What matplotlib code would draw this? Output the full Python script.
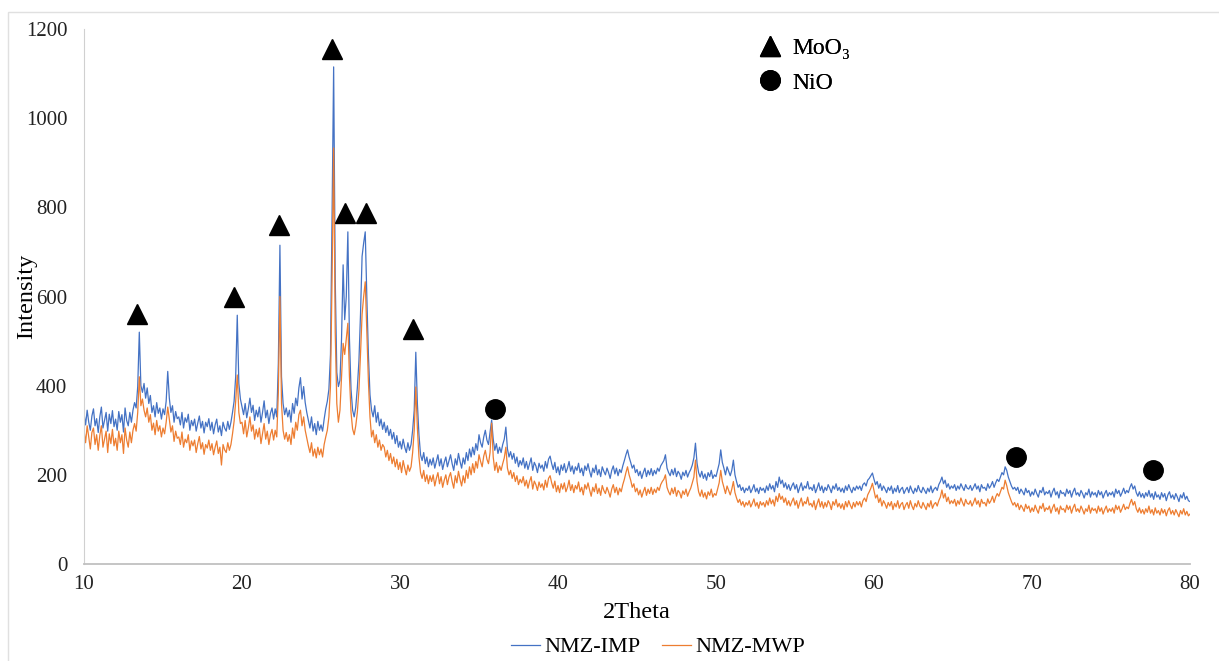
import matplotlib
matplotlib.use("Agg")
import matplotlib.pyplot as plt
from matplotlib.lines import Line2D
from matplotlib.patches import Rectangle
import numpy as np

# XRD patterns, 2Theta 10..80 in 0.1 steps (one row per degree)
imp = [
    338, 312, 345, 318, 300, 332, 348, 310, 326, 295,   # 10
    330, 352, 305, 322, 340, 298, 336, 315, 344, 308,   # 11
    325, 300, 342, 318, 335, 296, 350, 322, 310, 340,   # 12
    318, 345, 362, 350, 398, 520, 400, 385, 405, 372,   # 13
    395, 360, 378, 340, 355, 330, 362, 338, 350, 325,   # 14
    348, 335, 365, 432, 372, 340, 355, 318, 342, 326,   # 15
    330, 312, 340, 305, 328, 318, 336, 300, 322, 310,   # 16
    325, 298, 316, 332, 305, 320, 294, 318, 308, 326,   # 17
    300, 318, 292, 312, 325, 296, 310, 288, 318, 305,   # 18
    298, 320, 302, 318, 340, 365, 420, 558, 405, 370,   # 19
    352, 335, 360, 328, 348, 372, 340, 356, 322, 345,   # 20
    330, 352, 318, 340, 366, 328, 345, 315, 338, 350,   # 21
    325, 348, 330, 450, 715, 420, 360, 335, 350, 330,   # 22
    345, 318, 360, 338, 372, 355, 395, 418, 370, 398,   # 23
    362, 340, 322, 305, 330, 298, 315, 290, 320, 300,   # 24
    312, 298, 325, 348, 365, 392, 470, 780, 1115, 640,  # 25
    430, 398, 412, 505, 671, 548, 600, 745, 505, 392,   # 26
    345, 330, 352, 395, 455, 560, 690, 720, 745, 600,   # 27
    470, 380, 345, 330, 355, 318, 340, 310, 325, 302,   # 28
    318, 295, 310, 288, 302, 280, 295, 270, 288, 262,   # 29
    275, 258, 280, 262, 250, 272, 255, 268, 300, 345,   # 30
    475, 360, 290, 245, 232, 250, 225, 240, 218, 235,   # 31
    222, 238, 215, 230, 245, 220, 236, 212, 228, 240,   # 32
    218, 232, 245, 225, 210, 236, 222, 248, 230, 215,   # 33
    238, 224, 250, 232, 258, 240, 262, 245, 270, 255,   # 34
    290, 272, 262, 285, 300, 278, 268, 295, 323, 280,   # 35
    255, 270, 248, 262, 250, 268, 280, 307, 258, 240,   # 36
    252, 235, 248, 226, 240, 218, 232, 222, 238, 215,   # 37
    230, 212, 225, 238, 210, 228, 220, 205, 226, 215,   # 38
    222, 208, 230, 215, 235, 242, 225, 212, 228, 205,   # 39
    218, 200, 222, 210, 225, 205, 215, 230, 208, 220,   # 40
    202, 218, 210, 226, 205, 215, 198, 220, 210, 225,   # 41
    208, 195, 215, 205, 222, 200, 212, 196, 218, 208,   # 42
    200, 215, 205, 192, 210, 220, 202, 215, 198, 212,   # 43
    205, 220, 232, 245, 256, 240, 228, 215, 222, 205,   # 44
    212, 198, 208, 192, 205, 215, 196, 210, 200, 214,   # 45
    198, 210, 202, 215, 208, 220, 226, 232, 245, 215,   # 46
    205, 198, 212, 200, 215, 196, 208, 202, 190, 206,   # 47
    198, 210, 195, 205, 212, 222, 238, 271, 226, 205,   # 48
    195, 208, 192, 202, 188, 205, 196, 210, 192, 200,   # 49
    196, 210, 225, 256, 228, 215, 200, 218, 208, 198,   # 50
    210, 233, 200, 185, 172, 178, 165, 172, 160, 170,   # 51
    165, 175, 160, 168, 178, 162, 170, 158, 172, 165,   # 52
    170, 160, 175, 165, 180, 168, 176, 162, 185, 172,   # 53
    195, 180, 188, 172, 182, 168, 178, 165, 175, 182,   # 54
    168, 178, 160, 172, 182, 165, 175, 170, 185, 168,   # 55
    172, 165, 178, 160, 170, 182, 165, 175, 160, 172,   # 56
    165, 178, 170, 160, 175, 168, 180, 165, 172, 162,   # 57
    170, 160, 175, 165, 178, 168, 160, 172, 165, 175,   # 58
    168, 175, 165, 178, 182, 175, 188, 192, 198, 204,   # 59
    190, 178, 185, 170, 180, 165, 175, 168, 160, 172,   # 60
    165, 175, 158, 170, 162, 176, 160, 168, 172, 158,   # 61
    166, 172, 160, 175, 165, 158, 170, 162, 176, 165,   # 62
    160, 172, 165, 158, 170, 162, 175, 160, 168, 172,   # 63
    165, 178, 185, 195, 180, 188, 172, 180, 168, 175,   # 64
    170, 178, 165, 175, 168, 180, 172, 165, 178, 170,   # 65
    168, 176, 165, 172, 180, 168, 175, 162, 178, 170,   # 66
    172, 165, 180, 170, 176, 185, 172, 182, 190, 185,   # 67
    195, 205, 200, 218, 210, 195, 185, 175, 168, 172,   # 68
    165, 172, 158, 168, 162, 155, 170, 160, 165, 152,   # 69
    162, 155, 168, 158, 150, 165, 160, 172, 155, 162,   # 70
    158, 165, 150, 162, 170, 155, 162, 148, 165, 158,   # 71
    160, 152, 168, 158, 165, 150, 162, 170, 155, 160,   # 72
    152, 165, 158, 148, 160, 155, 168, 150, 162, 155,   # 73
    160, 150, 165, 155, 162, 148, 158, 165, 152, 160,   # 74
    155, 162, 150, 168, 158, 165, 152, 160, 170, 158,   # 75
    165, 160, 172, 180, 168, 175, 160, 152, 162, 150,   # 76
    158, 148, 160, 152, 165, 150, 158, 145, 162, 150,   # 77
    155, 145, 160, 150, 158, 142, 155, 162, 148, 155,   # 78
    145, 158, 150, 140, 155, 148, 160, 145, 152, 142,   # 79
    140,                                                # 80
]

mwp = [
    300, 272, 310, 285, 258, 295, 305, 268, 290, 255,   # 10
    288, 310, 262, 280, 298, 250, 292, 270, 302, 265,   # 11
    282, 255, 298, 272, 290, 248, 305, 278, 262, 296,   # 12
    272, 300, 315, 298, 340, 420, 355, 370, 345, 330,   # 13
    350, 318, 335, 300, 316, 290, 322, 298, 310, 285,   # 14
    305, 292, 318, 352, 325, 296, 310, 275, 298, 282,   # 15
    285, 268, 296, 262, 280, 272, 290, 255, 276, 265,   # 16
    278, 250, 270, 286, 258, 272, 246, 268, 260, 278,   # 17
    255, 270, 245, 262, 276, 248, 262, 222, 268, 256,   # 18
    250, 272, 255, 268, 292, 320, 365, 424, 340, 315,   # 19
    318, 292, 322, 285, 305, 330, 298, 312, 280, 302,   # 20
    285, 305, 270, 292, 315, 280, 298, 268, 290, 302,   # 21
    278, 300, 285, 385, 600, 360, 300, 280, 295, 275,   # 22
    290, 268, 305, 282, 318, 300, 335, 345, 310, 330,   # 23
    300, 282, 265, 250, 272, 242, 258, 238, 262, 245,   # 24
    258, 240, 268, 285, 300, 330, 400, 640, 933, 520,   # 25
    360, 318, 345, 420, 495, 470, 505, 540, 420, 340,   # 26
    303, 290, 310, 340, 390, 470, 560, 600, 633, 520,   # 27
    410, 330, 285, 300, 272, 290, 262, 278, 255, 268,   # 28
    262, 240, 255, 232, 248, 225, 240, 218, 235, 212,   # 29
    228, 205, 232, 215, 200, 222, 208, 218, 250, 300,   # 30
    397, 305, 240, 205, 192, 210, 185, 200, 180, 198,   # 31
    185, 200, 175, 192, 205, 180, 196, 172, 188, 200,   # 32
    178, 195, 205, 185, 170, 198, 182, 208, 190, 175,   # 33
    198, 182, 210, 192, 218, 200, 225, 205, 230, 215,   # 34
    245, 230, 218, 242, 255, 235, 225, 250, 316, 240,   # 35
    210, 228, 205, 220, 210, 225, 238, 262, 215, 200,   # 36
    210, 192, 205, 185, 198, 178, 190, 182, 196, 175,   # 37
    188, 170, 185, 196, 168, 186, 178, 165, 184, 172,   # 38
    180, 166, 188, 172, 192, 198, 182, 170, 186, 162,   # 39
    176, 160, 180, 168, 182, 162, 172, 188, 165, 178,   # 40
    160, 176, 168, 184, 162, 172, 155, 178, 168, 182,   # 41
    166, 152, 172, 162, 180, 158, 170, 154, 176, 165,   # 42
    158, 172, 162, 150, 168, 178, 160, 172, 155, 170,   # 43
    162, 178, 190, 205, 218, 200, 188, 172, 180, 162,   # 44
    170, 155, 166, 150, 162, 172, 154, 168, 158, 172,   # 45
    156, 168, 160, 172, 165, 178, 185, 190, 200, 172,   # 46
    162, 155, 170, 158, 172, 152, 165, 160, 148, 164,   # 47
    156, 168, 152, 162, 170, 182, 195, 233, 185, 162,   # 48
    152, 166, 150, 160, 146, 162, 154, 168, 150, 158,   # 49
    154, 168, 182, 210, 185, 172, 158, 175, 165, 155,   # 50
    168, 185, 160, 148, 138, 145, 132, 140, 128, 138,   # 51
    132, 142, 128, 136, 146, 130, 138, 125, 140, 132,   # 52
    138, 128, 142, 132, 148, 135, 144, 130, 152, 140,   # 53
    158, 145, 152, 138, 148, 132, 142, 130, 140, 148,   # 54
    132, 142, 125, 138, 148, 130, 140, 135, 150, 132,   # 55
    136, 128, 142, 122, 135, 146, 128, 140, 125, 138,   # 56
    128, 142, 135, 122, 140, 132, 145, 128, 136, 125,   # 57
    135, 122, 140, 128, 142, 132, 124, 138, 128, 140,   # 58
    132, 140, 128, 142, 148, 140, 155, 162, 170, 181,   # 59
    165, 148, 155, 138, 148, 130, 142, 135, 125, 138,   # 60
    130, 140, 122, 136, 128, 142, 125, 134, 138, 122,   # 61
    132, 138, 125, 142, 130, 122, 136, 128, 142, 130,   # 62
    125, 138, 130, 122, 136, 128, 142, 125, 134, 138,   # 63
    130, 142, 150, 166, 148, 158, 140, 150, 135, 142,   # 64
    136, 145, 130, 142, 134, 148, 138, 130, 145, 136,   # 65
    134, 142, 130, 138, 148, 134, 142, 128, 145, 136,   # 66
    138, 130, 146, 136, 142, 152, 138, 150, 158, 152,   # 67
    162, 172, 168, 188, 176, 160, 150, 140, 132, 138,   # 68
    128, 136, 122, 132, 126, 118, 134, 124, 130, 116,   # 69
    126, 118, 132, 122, 114, 130, 124, 136, 118, 126,   # 70
    122, 130, 114, 126, 134, 118, 126, 112, 130, 122,   # 71
    124, 116, 132, 122, 130, 114, 126, 134, 118, 124,   # 72
    116, 130, 122, 112, 124, 118, 132, 114, 126, 120,   # 73
    124, 114, 130, 118, 126, 112, 122, 130, 116, 124,   # 74
    118, 126, 114, 132, 122, 130, 116, 124, 134, 122,   # 75
    128, 124, 136, 145, 132, 140, 124, 116, 126, 114,   # 76
    122, 112, 124, 116, 130, 114, 122, 110, 126, 114,   # 77
    120, 110, 124, 114, 122, 108, 120, 126, 112, 120,   # 78
    110, 122, 114, 106, 120, 112, 124, 110, 118, 108,   # 79
    112,                                                # 80
]

# phase markers above the peaks
moo3_x = [13.35, 19.5, 22.35, 25.7, 26.5, 27.85, 30.8]
moo3_y = [561, 599, 760, 1155, 787, 787, 527]
nio_x = [36.0, 69.0, 77.65]
nio_y = [348, 240, 211]

series_names = ["NMZ-IMP", "NMZ-MWP"]
phase_names = ["MoO\u2083", "NiO"]
x_ticks = [10, 20, 30, 40, 50, 60, 70, 80]
y_ticks = [0, 200, 400, 600, 800, 1000, 1200]

BLUE = "#4472C4"
ORANGE = "#ED7D31"
AXIS_GREY = "#D0D0D0"
SERIF = ["Liberation Serif", "DejaVu Serif"]

plt.rcParams["font.family"] = SERIF

two_theta = np.linspace(10, 80, len(imp))

fig = plt.figure(figsize=(12.19, 6.61), dpi=100)
ax = fig.add_axes([84 / 1219, 97 / 661, 1106 / 1219, 535 / 661])

# light chart-area frame (only top and left edges show in the crop)
fig.patches.append(Rectangle((8 / 1219, -0.05), 1.1, (661 - 12) / 661 + 0.05,
                             transform=fig.transFigure, fill=False,
                             edgecolor="#E0E0E0", linewidth=1.0))

ax.plot(two_theta, imp, color=BLUE, linewidth=0.9, label=series_names[0])
ax.plot(two_theta, mwp, color=ORANGE, linewidth=0.9, label=series_names[1])

ax.plot(moo3_x, moo3_y, linestyle="none", marker="^", markersize=15,
        color="black")
ax.plot(nio_x, nio_y, linestyle="none", marker="o", markersize=14,
        color="black")

ax.set_xlim(10, 80)
ax.set_ylim(0, 1200)
ax.set_xticks(x_ticks)
ax.set_yticks(y_ticks)
ax.tick_params(axis="both", length=0, labelsize=15, colors="#222222")
ax.tick_params(axis="x", pad=8)
ax.tick_params(axis="y", pad=12)

for side in ("top", "right"):
    ax.spines[side].set_visible(False)
ax.spines["left"].set_color(AXIS_GREY)
ax.spines["bottom"].set_color("#C0C0C0")
ax.spines["bottom"].set_linewidth(1.3)

ax.set_xlabel("2Theta", fontsize=17.5, labelpad=6)
ax.set_ylabel("Intensity", fontsize=17.5)
ax.yaxis.set_label_coords(-0.0425, 0.5)

# phase key in the upper middle
phase_handles = [
    Line2D([], [], linestyle="none", marker="^", markersize=15, color="black"),
    Line2D([], [], linestyle="none", marker="o", markersize=14, color="black"),
]
phase_leg = ax.legend(phase_handles, phase_names, loc="upper left",
                      bbox_to_anchor=(742 / 1219, 640 / 661),
                      bbox_transform=fig.transFigure, frameon=False,
                      fontsize=17, handlelength=1.0, handletextpad=0.45,
                      labelspacing=0.55, borderpad=0.2)
ax.add_artist(phase_leg)

# series legend under the axis title
line_handles = ax.get_lines()[:2]
fig.legend(line_handles, series_names, loc="center",
           bbox_to_anchor=(658 / 1219, 14 / 661), ncol=2, frameon=False,
           fontsize=16, handlelength=1.3, handletextpad=0.2,
           columnspacing=1.0)

fig.savefig("out.png", dpi=100)
